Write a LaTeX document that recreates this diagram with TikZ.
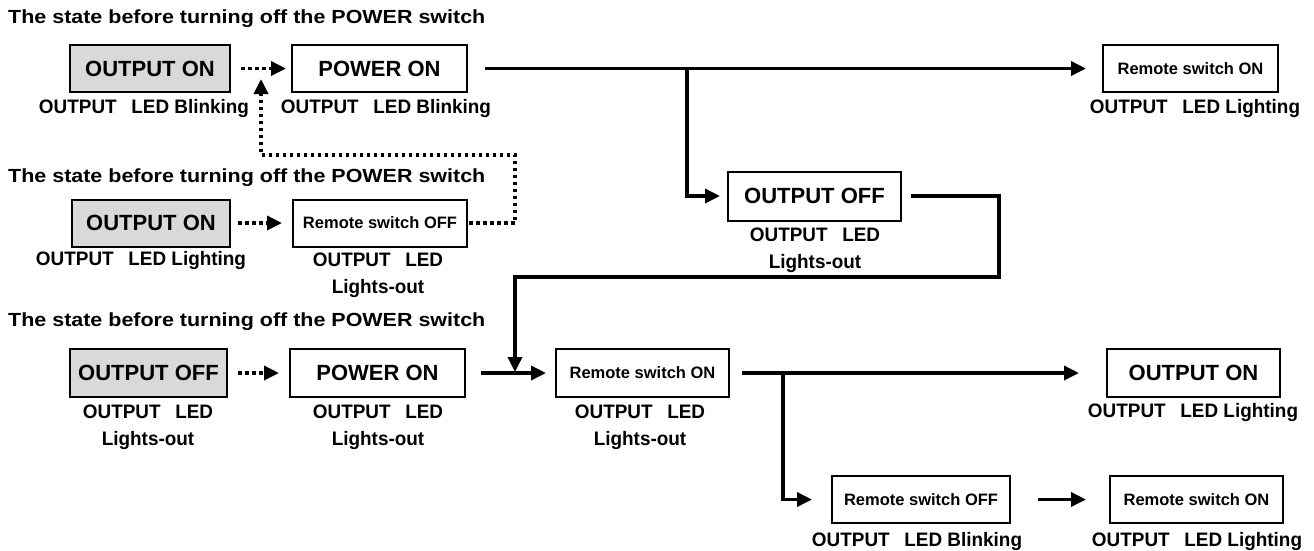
\documentclass[tikz,border=0pt]{standalone}
\usepackage{fontspec}
\setmainfont{Liberation Sans}
\newfontfamily\lblfam{Liberation Sans}[FakeStretch=0.97]
\newfontfamily\ttlfam{Liberation Sans}[FakeStretch=1.13]
\usetikzlibrary{arrows.meta}
\definecolor{boxgray}{RGB}{217,217,217}
\newcommand{\outled}{OUTPUT\hspace{0.75em}LED}
\begin{document}
\begin{tikzpicture}[x=1pt,y=-1pt,
  bx/.style={draw=black, line width=2pt, inner sep=0pt, minimum height=47pt,
    font=\bfseries\fontsize{22}{24}\selectfont},
  sbx/.style={bx, font=\bfseries\fontsize{16.5}{18}\selectfont},
  gbx/.style={bx, fill=boxgray},
  lbl/.style={inner sep=0pt, font=\lblfam\bfseries\fontsize{19.5}{21}\selectfont},
  ttl/.style={inner sep=0pt, anchor=west, font=\ttlfam\bfseries\fontsize{19}{21}\selectfont},
  conn/.style={line width=3.5pt, line join=miter, -{Triangle[length=15pt,width=14pt]}},
  dconn/.style={conn, dash pattern=on 3.5pt off 3.5pt},
]
\useasboundingbox (0,0) rectangle (1314,550);

% titles
\node[ttl] (T1) at (8,19) {The state before turning off the POWER switch};
\node[ttl] (T2) at (8,178) {The state before turning off the POWER switch};
\node[ttl] (T3) at (8,322) {The state before turning off the POWER switch};

% row 1
\node[gbx, minimum width=160pt] (A) at (150,68.5) {OUTPUT ON};
\node[bx, minimum width=175pt] (B) at (379.5,68.5) {POWER ON};
\node[sbx, minimum width=175pt] (C) at (1190.5,68.5) {Remote switch ON};
\node[lbl] (LA) at (144,108) {\outled{} Blinking};
\node[lbl] (LB) at (386,108) {\outled{} Blinking};
\node[lbl] (LC) at (1195,108) {\outled{} Lighting};

% middle right
\node[bx, minimum width=173pt, minimum height=49pt] (D) at (814.5,196) {OUTPUT OFF};
\node[lbl] (LD1) at (815,235) {\outled};
\node[lbl] (LD2) at (815,263) {Lights-out};

% row 2
\node[gbx, minimum width=158pt] (E) at (151,223) {OUTPUT ON};
\node[sbx, minimum width=174pt] (F) at (380,223) {Remote switch OFF};
\node[lbl] (LE) at (141,260) {\outled{} Lighting};
\node[lbl] (LF1) at (378,260) {\outled};
\node[lbl] (LF2) at (378,288) {Lights-out};

% row 3
\node[gbx, minimum width=157pt, minimum height=48pt] (J) at (148.5,373) {OUTPUT OFF};
\node[bx, minimum width=175pt, minimum height=48pt] (K) at (377.5,373) {POWER ON};
\node[sbx, minimum width=173pt, minimum height=48pt] (G) at (642.5,373) {Remote switch ON};
\node[bx, minimum width=173pt, minimum height=48pt] (H) at (1193.5,373) {OUTPUT ON};
\node[lbl] (LJ1) at (148,412) {\outled};
\node[lbl] (LJ2) at (148,440) {Lights-out};
\node[lbl] (LK1) at (378,412) {\outled};
\node[lbl] (LK2) at (378,440) {Lights-out};
\node[lbl] (LG1) at (640,412) {\outled};
\node[lbl] (LG2) at (640,440) {Lights-out};
\node[lbl] (LH) at (1193,412) {\outled{} Lighting};

% row 4
\node[sbx, minimum width=178pt] (I) at (921,499.5) {Remote switch OFF};
\node[sbx, minimum width=173pt] (L) at (1196.5,499.5) {Remote switch ON};
\node[lbl] (LI) at (917,541) {\outled{} Blinking};
\node[lbl] (LL) at (1197,541) {\outled{} Lighting};

% connectors
\draw[dconn, shorten <=10pt, shorten >=5pt] (A) -- (B);
\draw[conn, shorten <=17pt, shorten >=16pt] (B) -- (C);
\coordinate (b1) at (687,68.5);
\draw[conn, shorten >=7pt] (b1) |- (D);
\coordinate (j1) at (515,372);
\draw[conn, shorten <=9pt] (D.east) -- (999,196) -- (999,277) -- (515,277) -- (j1);

\draw[dconn, shorten <=7pt, shorten >=10pt] (E) -- (F);
\coordinate (t1) at (261,79);
\draw[dconn, shorten <=1pt] (F.east) -- (515,223) -- (515,155) -- (261,155) -- (t1);

\draw[dconn, shorten <=10pt, shorten >=10pt] (J) -- (K);
\draw[conn, shorten <=15pt, shorten >=9pt] (K) -- (G);
\draw[conn, shorten <=12pt, shorten >=27pt] (G) -- (H);
\coordinate (b2) at (783,373);
\draw[conn, shorten >=19pt] (b2) |- (I);
\draw[conn, shorten <=27pt, shorten >=23pt] (I) -- (L);
\end{tikzpicture}
\end{document}
